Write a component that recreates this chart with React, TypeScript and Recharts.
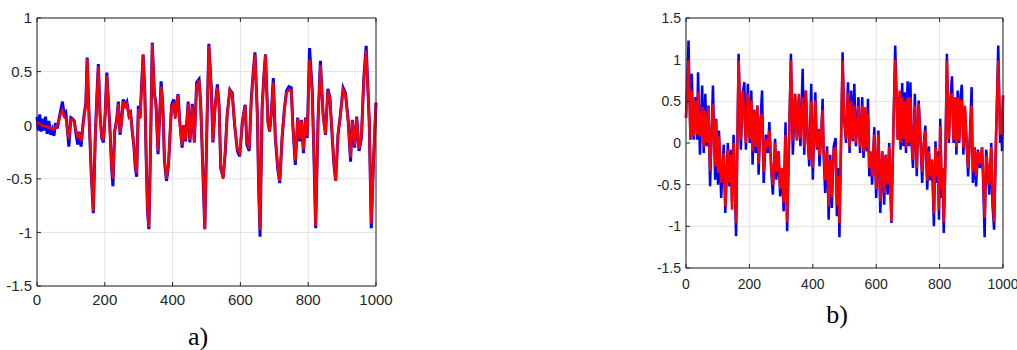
import { LineChart, Line, XAxis, YAxis, CartesianGrid } from "recharts";

// ---- panel a) ----
const tA = [
  0, 4, 8, 12, 16, 20, 25, 30, 35, 40, 45, 50, 55, 60, 65, 70, 75, 80, 85, 90, 94, 100, 105, 110, 115,
  120, 124, 130, 136, 140, 144, 148, 154, 160, 166, 172, 177, 181, 186, 191, 196, 201, 206, 211, 216,
  220, 224, 229, 235, 240, 245, 250, 254, 260, 265, 271, 276, 281, 286, 290, 294, 299, 304, 309, 313,
  318, 322, 326, 330, 335, 340, 346, 351, 357, 362, 366, 371, 376, 382, 388, 393, 397, 403, 408, 412,
  416, 421, 428, 433, 438, 446, 451, 458, 464, 471, 478, 483, 491, 495, 502, 507, 514, 519, 525, 532,
  537, 542, 549, 555, 561, 569, 576, 583, 591, 598, 606, 614, 619, 626, 632, 638, 643, 650, 654, 658,
  664, 669, 674, 681, 686, 691, 697, 703, 710, 716, 723, 730, 736, 743, 750, 755, 762, 769, 775, 780,
  786, 792, 797, 804, 812, 817, 822, 829, 836, 844, 851, 858, 864, 871, 876, 881, 888, 895, 903, 910,
  918, 925, 930, 937, 943, 950, 957, 964, 971, 980, 986, 993, 1000,
];
const actualA = [
  0.08, -0.05, 0.1, -0.06, 0.06, -0.05, 0.08, -0.08, 0.04, -0.09, -0.04, -0.1, 0.02, -0.03, 0.06, 0.14,
  0.22, 0.1, 0.12, -0.05, -0.2, 0.07, 0.06, 0.04, -0.08, -0.18, -0.06, -0.2, 0.02, 0.12, 0.2, 0.63, 0.05,
  -0.45, -0.82, -0.1, 0.3, 0.57, 0.1, -0.12, -0.16, 0.1, 0.49, 0.2, -0.09, -0.4, -0.57, -0.06, 0.05,
  0.22, -0.09, 0.05, 0.24, 0.19, 0.22, 0.1, 0.12, -0.06, -0.2, -0.4, -0.48, 0.18, 0.07, 0.4, 0.66, 0.32,
  -0.3, -0.8, -0.97, -0.2, 0.77, 0.3, 0.2, -0.27, 0.1, 0.41, 0.2, -0.34, -0.52, -0.37, -0.05, 0.19, 0.24,
  0.08, 0.2, 0.29, 0.04, -0.21, 0, -0.15, 0.22, -0.16, 0.2, -0.16, 0.4, 0.43, 0.19, -0.59, -0.97, 0.1,
  0.76, 0.35, -0.16, 0.16, 0.38, 0.19, -0.4, -0.49, -0.27, 0.1, 0.33, 0.3, 0.0, -0.24, -0.29, 0.04, 0.19,
  -0.18, -0.24, 0.24, 0.5, 0.68, 0.1, -0.6, -1.04, 0.16, 0.45, 0.66, 0.04, -0.06, 0.1, 0.44, -0.12, -0.4,
  -0.54, -0.12, 0.16, 0.32, 0.36, 0.35, -0.02, -0.37, 0.07, -0.15, 0.05, -0.26, 0.07, -0.12, 0.72, 0.32,
  -0.3, -0.96, 0.04, 0.6, 0.1, -0.09, 0.34, 0.26, -0.12, -0.37, -0.52, -0.09, 0.1, 0.35, 0.3, 0.04, -0.34,
  0.05, -0.21, 0.08, -0.24, -0.12, 0.44, 0.74, 0.04, -0.96, -0.3, 0.21,
];
const predA = [
  0.03, 0.02, 0.01, 0.0, 0.0, -0.01, -0.01, -0.02, -0.02, -0.03, -0.03, -0.04, -0.02, 0.0, 0.05, 0.11,
  0.14, 0.08, 0.06, -0.04, -0.13, 0.05, 0.06, 0.02, -0.05, -0.12, -0.07, -0.15, 0.0, 0.1, 0.18, 0.62, 0.05,
  -0.42, -0.8, -0.1, 0.28, 0.55, 0.08, -0.1, -0.14, 0.1, 0.46, 0.18, -0.08, -0.38, -0.5, -0.06, 0.04, 0.2,
  -0.07, 0.04, 0.22, 0.17, 0.2, 0.08, 0.11, -0.05, -0.18, -0.38, -0.45, 0.15, 0.06, 0.38, 0.66, 0.3,
  -0.28, -0.78, -0.95, -0.2, 0.76, 0.3, 0.18, -0.24, 0.1, 0.36, 0.18, -0.3, -0.5, -0.35, -0.04, 0.18, 0.2,
  0.06, 0.2, 0.28, 0.03, -0.19, 0, -0.14, 0.2, -0.14, 0.18, -0.16, 0.36, 0.42, 0.18, -0.55, -0.97, 0.1,
  0.74, 0.33, -0.15, 0.15, 0.35, 0.18, -0.38, -0.5, -0.25, 0.08, 0.33, 0.28, 0.0, -0.22, -0.26, 0.03,
  0.18, -0.16, -0.22, 0.22, 0.48, 0.66, 0.1, -0.6, -0.98, 0.14, 0.44, 0.66, 0.03, -0.05, 0.09, 0.4, -0.1,
  -0.38, -0.52, -0.1, 0.14, 0.3, 0.33, 0.32, -0.02, -0.33, 0.06, -0.13, 0.04, -0.23, 0.06, -0.1, 0.61,
  0.3, -0.28, -0.94, 0.03, 0.56, 0.09, -0.08, 0.32, 0.25, -0.1, -0.35, -0.52, -0.08, 0.09, 0.33, 0.28,
  0.03, -0.3, 0.04, -0.19, 0.07, -0.22, -0.1, 0.42, 0.7, 0.04, -0.92, -0.3, 0.21,
];

// ---- panel b) ----
const tB = [
  0, 8, 14, 18, 24, 30, 35, 38, 44, 51, 56, 61, 65, 71, 76, 85, 92, 95, 101, 104, 111, 119, 124, 132,
  137, 142, 145, 150, 158, 166, 173, 179, 184, 189, 195, 201, 206, 210, 215, 220, 225, 229, 235, 240,
  245, 252, 258, 263, 269, 274, 281, 285, 292, 297, 303, 308, 314, 319, 331, 337, 344, 350, 356, 361,
  368, 373, 378, 384, 389, 395, 400, 408, 413, 418, 421, 427, 431, 434, 439, 445, 450, 455, 460, 466,
  472, 476, 480, 484, 494, 499, 505, 511, 516, 521, 526, 531, 536, 544, 549, 556, 560, 566, 570, 574,
  578, 583, 587, 594, 600, 607, 613, 619, 625, 630, 636, 641, 648, 655, 660, 668, 674, 677, 682, 686,
  690, 694, 699, 703, 708, 712, 716, 722, 728, 734, 740, 745, 750, 755, 761, 766, 771, 776, 782, 787,
  791, 794, 798, 802, 807, 810, 813, 818, 823, 829, 834, 839, 844, 849, 853, 857, 862, 866, 870, 875,
  880, 885, 890, 895, 901, 905, 911, 915, 921, 927, 934, 938, 942, 947, 952, 957, 963, 967, 972, 978,
  985, 991, 994, 997, 1000,
];
const actualB = [
  0.3, 1.23, 0.04, 0.83, 0.04, 0.55, 0.04, 0.85, -0.14, 0.69, -0.12, 0.59, -0.04, 0.45, -0.52, 0.69,
  -0.44, 0.29, -0.5, 0.15, -0.66, -0.02, -0.84, 0.0, -0.52, -0.08, -0.7, 0.1, -1.12, 1.07, -0.08, 0.6,
  0.73, -0.08, 0.71, 0.0, 0.63, -0.26, 0.4, -0.12, 0.45, -0.38, 0.27, 0.63, -0.48, 0.1, -0.12, 0.25,
  -0.34, -0.62, 0.05, -0.44, -0.1, -0.64, -0.34, -0.82, 0.25, -1.06, 1.07, -0.14, 0.59, 0.03, 0.55, -0.04,
  0.89, -0.14, 0.63, 0.03, -0.28, 0.71, -0.44, 0.61, -0.08, 0.17, -0.28, 0.15, 0.53, -0.12, -0.6, -0.04,
  -0.92, -0.14, -0.78, -0.04, 0.06, -0.88, -0.3, -1.13, 1.09, 0.27, 0.0, 0.73, -0.12, 0.63, 0.02, 0.71,
  -0.04, 0.55, -0.12, 0.55, -0.18, 0.35, -0.1, 0.53, -0.4, -0.12, -0.5, 0.19, -0.66, 0.15, -0.84, -0.1,
  -0.74, -0.14, -0.62, 0.0, -0.96, 0.31, 1.17, 0.04, 0.55, -0.08, 0.72, -0.04, 0.61, -0.12, 0.74, -0.04,
  0.73, -0.04, -0.3, 0.59, -0.4, 0.51, 0.02, -0.48, 0.0, 0.21, -0.56, -0.04, -0.45, -0.2, -1.0, 0.02,
  -0.48, -0.1, -0.92, 0.29, -0.66, -0.3, -1.08, -0.2, 1.07, 0.0, 0.51, 0.8, 0.0, 0.45, -0.14, 0.63, 0.0,
  0.55, 0.7, -0.14, 0.4, 0.04, -0.4, 0.04, 0.67, -0.48, -0.08, -0.52, -0.08, -0.3, -0.06, -0.54, -1.13,
  -0.08, -0.36, -0.62, 0.0, -0.76, -1.04, 0.04, 1.17, 0.0, 0.3, -0.1, 0.57,
];
const predB = [
  0.3, 1.0, 0.05, 0.63, 0.08, 0.51, 0.1, 0.61, 0.08, 0.43, -0.05, 0.39, 0.0, 0.43, -0.34, 0.47, -0.28,
  0.27, -0.36, 0.08, -0.48, -0.12, -0.76, -0.08, -0.48, -0.14, -0.8, 0.0, -0.96, 0.99, 0.04, 0.63, 0.3,
  0.0, 0.59, 0.05, 0.51, -0.1, 0.39, -0.05, 0.45, -0.25, 0.27, 0.35, -0.35, 0.05, -0.05, 0.15, -0.3,
  -0.5, 0.0, -0.35, -0.1, -0.55, -0.3, -0.72, 0.1, -0.95, 0.99, 0.03, 0.59, 0.03, 0.59, 0.05, 0.55,
  -0.05, 0.63, 0.05, -0.2, 0.5, -0.3, 0.51, -0.05, 0.15, -0.15, 0.15, 0.4, -0.05, -0.45, -0.1, -0.76,
  -0.2, -0.65, -0.1, -0.05, -0.75, -0.4, -0.96, 0.99, 0.3, 0.05, 0.6, -0.05, 0.5, 0.05, 0.45, 0.0, 0.45,
  -0.05, 0.45, -0.1, 0.43, -0.05, 0.35, -0.3, -0.1, -0.4, 0.1, -0.55, 0.1, -0.7, -0.1, -0.6, -0.15, -0.5,
  -0.05, -0.94, 0.3, 1.0, 0.04, 0.63, 0.0, 0.55, 0.05, 0.5, -0.05, 0.55, 0.0, 0.55, 0.0, -0.2, 0.45,
  -0.3, 0.47, 0.0, -0.35, -0.05, 0.15, -0.45, -0.1, -0.4, -0.2, -0.85, -0.05, -0.4, -0.15, -0.8, 0.2,
  -0.55, -0.3, -0.95, -0.3, 0.99, 0.05, 0.45, 0.6, 0.03, 0.55, -0.05, 0.55, 0.03, 0.5, 0.5, -0.05, 0.45,
  0.0, -0.3, 0.0, 0.45, -0.35, -0.05, -0.4, -0.1, -0.25, -0.05, -0.45, -0.9, -0.15, -0.3, -0.5, -0.05,
  -0.6, -0.95, 0.1, 0.99, 0.1, 0.4, 0.1, 0.57,
];

const xTicks = [0, 200, 400, 600, 800, 1000];
const yTicksA = [-1.5, -1, -0.5, 0, 0.5, 1];
const yTicksB = [-1.5, -1, -0.5, 0, 0.5, 1, 1.5];

const dataA = tA.map((t, i) => ({ t, actual: actualA[i], pred: predA[i] }));
const dataB = tB.map((t, i) => ({ t, actual: actualB[i], pred: predB[i] }));

const ink = "#262626";
const blank = () => "";

function Panel({ data, width, height, rightPad, yDomain, yTicks, yWidth, fontSize, xMargin, lw }: any) {
  const tick = { fontSize, fill: ink, fontFamily: "'Liberation Sans', Arial, sans-serif" };
  return (
    <LineChart width={width} height={height} data={data} margin={{ top: 17, right: rightPad, bottom: 0, left: 0 }}>
      <CartesianGrid stroke="#e3e3e3" />
      <XAxis
        dataKey="t"
        type="number"
        domain={[0, 1000]}
        ticks={xTicks}
        height={24}
        tick={tick}
        tickSize={-4}
        tickMargin={xMargin}
        stroke={ink}
        interval={0}
      />
      <XAxis xAxisId="top" dataKey="t" type="number" orientation="top" domain={[0, 1000]} ticks={xTicks}
        height={1} tickSize={-4} tickFormatter={blank} stroke={ink} interval={0} />
      <YAxis
        type="number"
        domain={yDomain}
        ticks={yTicks}
        width={yWidth}
        tick={tick}
        tickSize={-4}
        tickMargin={9}
        stroke={ink}
        interval={0}
      />
      <YAxis yAxisId="right" type="number" orientation="right" domain={yDomain} ticks={yTicks}
        width={1} tickSize={-4} tickFormatter={blank} stroke={ink} interval={0} />
      <Line dataKey="actual" stroke="#0000ff" strokeWidth={lw[0]} dot={false} isAnimationActive={false} />
      <Line dataKey="pred" stroke="#ff0000" strokeWidth={lw[1]} dot={false} isAnimationActive={false} />
    </LineChart>
  );
}

export default function App() {
  return (
    <div style={{ position: "absolute", left: 0, top: 0, width: 1017, height: 350, background: "#fff", overflow: "hidden" }}>
      <div style={{ position: "absolute", left: 0, top: 0 }}>
        <Panel data={dataA} width={410} height={310} rightPad={33} yDomain={[-1.5, 1]} yTicks={yTicksA} yWidth={37}
          fontSize={15} xMargin={12} lw={[3, 2.5]} />
      </div>
      <div style={{ position: "absolute", left: 650, top: 0 }}>
        <Panel data={dataB} width={367} height={292} rightPad={13} yDomain={[-1.5, 1.5]} yTicks={yTicksB} yWidth={36}
          fontSize={14} xMargin={15} lw={[2.5, 2.5]} />
      </div>
      <svg width={1017} height={350} style={{ position: "absolute", left: 0, top: 0, pointerEvents: "none" }}>
        <text x={198} y={345} textAnchor="middle" fontSize={26} fontFamily="'Liberation Serif', 'Times New Roman', serif" fill="#000">a)</text>
        <text x={837} y={323} textAnchor="middle" fontSize={26} fontFamily="'Liberation Serif', 'Times New Roman', serif" fill="#000">b)</text>
      </svg>
    </div>
  );
}
